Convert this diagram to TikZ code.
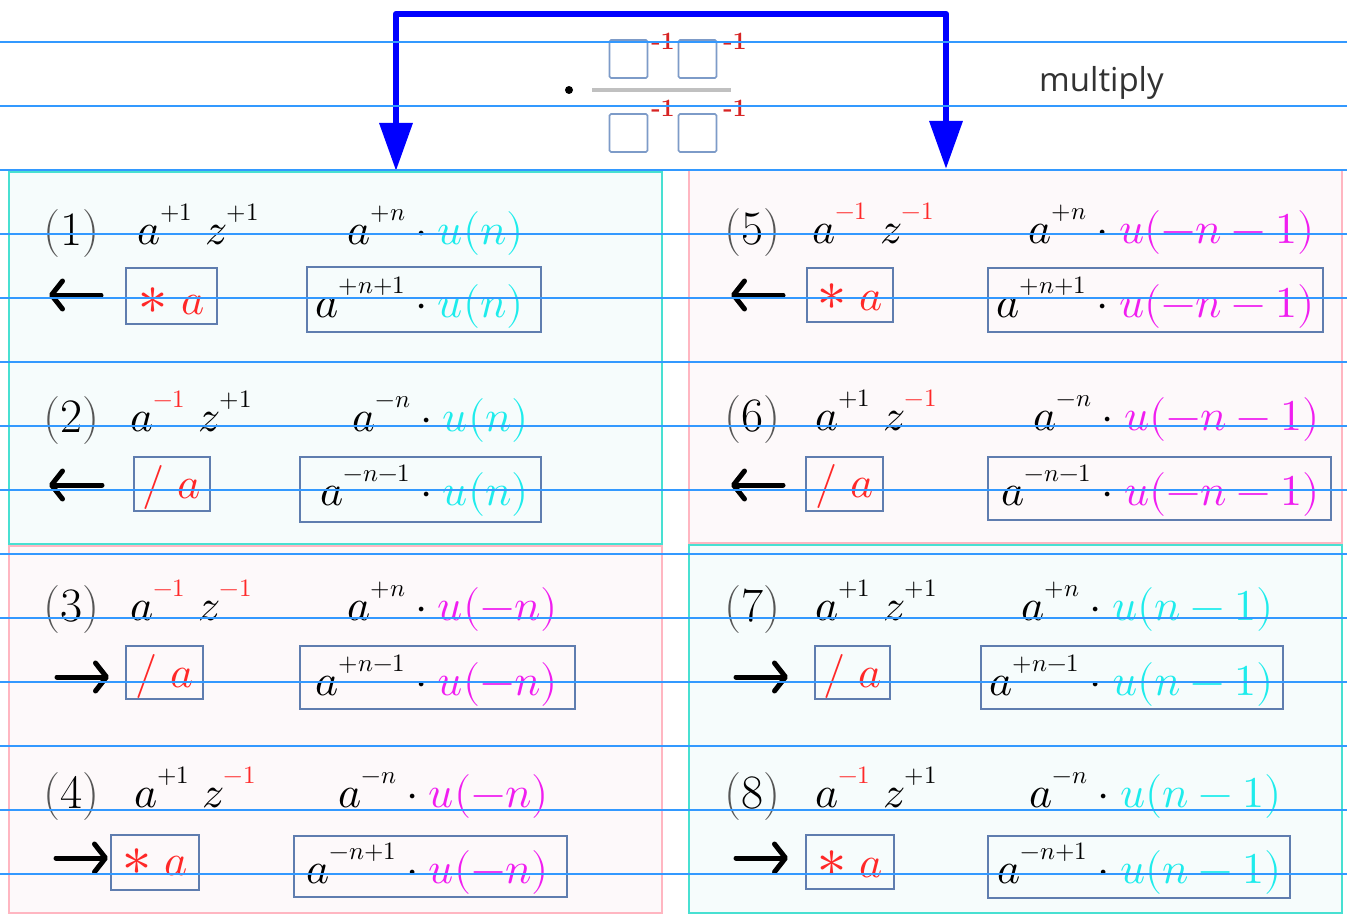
\documentclass[tikz,border=0pt]{standalone}
\usepackage{unicode-math}
\setmathfont{Latin Modern Math}
\newfontfamily\osans{Open Sans}
\usetikzlibrary{arrows.meta,fit}
\DeclareMathSizes{44}{44}{25}{19}
\definecolor{rd}{RGB}{255,40,40}
\definecolor{hdr}{RGB}{215,35,35}
\definecolor{cy}{RGB}{30,236,236}
\definecolor{mg}{RGB}{240,30,240}
\definecolor{rulec}{RGB}{51,153,255}
\definecolor{turq}{RGB}{72,224,210}
\definecolor{pinkb}{RGB}{255,182,193}
\definecolor{cfill}{RGB}{246,252,252}
\definecolor{pfill}{RGB}{253,249,250}
\definecolor{sboxc}{RGB}{95,125,175}
\definecolor{sqc}{RGB}{125,155,200}
\definecolor{lbg}{RGB}{85,85,85}
\definecolor{barg}{RGB}{192,192,192}
\definecolor{txtg}{RGB}{50,50,50}
\newcommand\rdm[1]{\textcolor{rd}{#1}}
\newcommand\cyu[1]{\textcolor{cy}{u(#1)}}
\newcommand\mgu[1]{\textcolor{mg}{u(#1)}}
\newcommand\up[1]{^{\raisebox{8pt}{$\scriptstyle #1$}}}
\newcommand\mylab[1]{{\color{lbg}(}#1{\color{lbg})}}
\newcommand\bigast{{\fontsize{58}{60}\selectfont$\ast$}}
\begin{document}
\begin{tikzpicture}[x=1pt,y=-1pt,
  mth/.style={inner sep=0pt, anchor=base west, font=\fontsize{44}{52}\selectfont, text=black},
  lbl/.style={inner sep=0pt, anchor=base west, font=\fontsize{48}{54}\selectfont, text=black},
  opn/.style={inner sep=0pt, anchor=base, font=\fontsize{44}{52}\selectfont, text=rd},
  sbox/.style={draw=sboxc, line width=1.4pt, inner sep=0pt},
  bigc/.style={draw=turq, fill=cfill, line width=2.6pt, inner sep=0pt},
  bigp/.style={draw=pinkb, fill=pfill, line width=2.6pt, inner sep=0pt},
  arr/.style={line width=5pt, line cap=round, -{Straight Barb[length=11pt,width=28pt,round]}},
  bluearr/.style={draw=blue, line width=6.5pt, line join=round, {Triangle[width=32pt,length=48pt]}-{Triangle[width=32pt,length=48pt]}},
  sq/.style={draw=sqc, fill=white, line width=1.6pt, rounded corners=1.5pt, minimum size=38pt, inner sep=0pt},
  msup/.style={inner sep=0pt, text=hdr, font=\fontsize{25}{27}\selectfont\bfseries},
  rline/.style={draw=rulec, line width=1.2pt}
]
\useasboundingbox (0,0) rectangle (1347,915);
\fill[white] (0,0) rectangle (1347,915);

% big boxes
\node[bigc, fit={(9,172) (662,544)}] (B1) {};
\node[bigp, fit={(9,546) (662,913)}] (B3) {};
\node[bigp, fit={(689,170) (1342,543)}] (B5) {};
\node[bigc, fit={(689,545) (1342,913)}] (B7) {};

% header
\coordinate (tipL) at (396,171);
\coordinate (tipR) at (946,169);
\coordinate (tbar) at (671,14);
\draw[bluearr] (tipL) |- (tbar) -| (tipR);
\node[circle, fill=black, minimum size=8pt, inner sep=0pt] (fdot) at (569,90) {};
\node[fill=barg, minimum width=139pt, minimum height=4pt, inner sep=0pt] (fbar) at (661.5,90) {};
\node[sq] (s1) at (628.5,59) {};
\node[sq] (s2) at (697.5,59) {};
\node[sq] (s3) at (628.5,133) {};
\node[sq] (s4) at (697.5,133) {};
\node[msup] (m1) at (663,41) {-1};
\node[msup] (m2) at (735,41) {-1};
\node[msup] (m3) at (663,108) {-1};
\node[msup] (m4) at (735,108) {-1};
\node[inner sep=0pt, anchor=base west, text=txtg, font=\osans\fontsize{33}{38}\selectfont] (mult) at (1039,92) {multiply};

% ---------- (1)
\node[lbl] (l1) at (43,245) {\mylab{1}};
\node[mth] (az1) at (137,244) {$a\up{+1}\;z\up{+1}$};
\node[mth, anchor=base east] (e1a) at (406,244) {$a\up{+n}$};
\node[mth] (e1b) at (406,244) {${}\cdot\cyu{n}$};
\coordinate (ar1s) at (101,295); \coordinate (ar1e) at (49,295);
\draw[arr] (ar1s) -- (ar1e);
\node[sbox, fit={(126,268) (217,324)}] (ob1) {};
\node[opn] (o1) at (171.5,314) {\bigast\ $a$};
\node[sbox, fit={(307,267) (541,332)}] (xb1) {};
\node[mth, anchor=base east] (x1a) at (406,317) {$a\up{+n+1}$};
\node[mth] (x1b) at (406,317) {${}\cdot\cyu{n}$};

% ---------- (2)
\node[lbl] (l2) at (43,432) {\mylab{2}};
\node[mth] (az2) at (130,431) {$a\up{\rdm{-1}}\;z\up{+1}$};
\node[mth, anchor=base east] (e2a) at (411,431) {$a\up{-n}$};
\node[mth] (e2b) at (411,431) {${}\cdot\cyu{n}$};
\coordinate (ar2s) at (102,485); \coordinate (ar2e) at (49,485);
\draw[arr] (ar2s) -- (ar2e);
\node[sbox, fit={(134,457) (210,511)}] (ob2) {};
\node[opn] (o2) at (172,498) {$/\ a$};
\node[sbox, fit={(300,457) (541,522)}] (xb2) {};
\node[mth, anchor=base east] (x2a) at (411,505) {$a\up{-n-1}$};
\node[mth] (x2b) at (411,505) {${}\cdot\cyu{n}$};

% ---------- (3)
\node[lbl] (l3) at (43,621) {\mylab{3}};
\node[mth] (az3) at (130,620) {$a\up{\rdm{-1}}\;z\up{\rdm{-1}}$};
\node[mth, anchor=base east] (e3a) at (406,620) {$a\up{+n}$};
\node[mth] (e3b) at (406,620) {${}\cdot\mgu{-n}$};
\coordinate (ar3s) at (57,677); \coordinate (ar3e) at (109,677);
\draw[arr] (ar3s) -- (ar3e);
\node[sbox, fit={(126,646) (203,699)}] (ob3) {};
\node[opn] (o3) at (164.5,687) {$/\ a$};
\node[sbox, fit={(300,646) (575,709)}] (xb3) {};
\node[mth, anchor=base east] (x3a) at (406,695) {$a\up{+n-1}$};
\node[mth] (x3b) at (406,695) {${}\cdot\mgu{-n}$};

% ---------- (4)
\node[lbl] (l4) at (43,808) {\mylab{4}};
\node[mth] (az4) at (134,807) {$a\up{+1}\;z\up{\rdm{-1}}$};
\node[mth, anchor=base east] (e4a) at (397,807) {$a\up{-n}$};
\node[mth] (e4b) at (397,807) {${}\cdot\mgu{-n}$};
\coordinate (ar4s) at (56,858); \coordinate (ar4e) at (108,858);
\draw[arr] (ar4s) -- (ar4e);
\node[sbox, fit={(111,835) (199,890)}] (ob4) {};
\node[opn] (o4) at (155,875) {\bigast\ $a$};
\node[sbox, fit={(294,836) (567,897)}] (xb4) {};
\node[mth, anchor=base east] (x4a) at (397,883) {$a\up{-n+1}$};
\node[mth] (x4b) at (397,883) {${}\cdot\mgu{-n}$};

% ---------- (5)
\node[lbl] (l5) at (724,244) {\mylab{5}};
\node[mth] (az5) at (812,243) {$a\up{\rdm{-1}}\;z\up{\rdm{-1}}$};
\node[mth, anchor=base east] (e5a) at (1087,243) {$a\up{+n}$};
\node[mth] (e5b) at (1087,243) {${}\cdot\mgu{-n-1}$};
\coordinate (ar5s) at (783,295); \coordinate (ar5e) at (731,295);
\draw[arr] (ar5s) -- (ar5e);
\node[sbox, fit={(807,268) (893,322)}] (ob5) {};
\node[opn] (o5) at (850,310) {\bigast\ $a$};
\node[sbox, fit={(988,268) (1323,332)}] (xb5) {};
\node[mth, anchor=base east] (x5a) at (1087,317) {$a\up{+n+1}$};
\node[mth] (x5b) at (1087,317) {${}\cdot\mgu{-n-1}$};

% ---------- (6)
\node[lbl] (l6) at (724,431) {\mylab{6}};
\node[mth] (az6) at (815,430) {$a\up{+1}\;z\up{\rdm{-1}}$};
\node[mth, anchor=base east] (e6a) at (1092,430) {$a\up{-n}$};
\node[mth] (e6b) at (1092,430) {${}\cdot\mgu{-n-1}$};
\coordinate (ar6s) at (783,485); \coordinate (ar6e) at (731,485);
\draw[arr] (ar6s) -- (ar6e);
\node[sbox, fit={(806,457) (883,511)}] (ob6) {};
\node[opn] (o6) at (844.5,497) {$/\ a$};
\node[sbox, fit={(988,457) (1331,520)}] (xb6) {};
\node[mth, anchor=base east] (x6a) at (1092,505) {$a\up{-n-1}$};
\node[mth] (x6b) at (1092,505) {${}\cdot\mgu{-n-1}$};

% ---------- (7)
\node[lbl] (l7) at (724,621) {\mylab{7}};
\node[mth] (az7) at (815,620) {$a\up{+1}\;z\up{+1}$};
\node[mth, anchor=base east] (e7a) at (1080,620) {$a\up{+n}$};
\node[mth] (e7b) at (1080,620) {${}\cdot\cyu{n-1}$};
\coordinate (ar7s) at (736,677); \coordinate (ar7e) at (788,677);
\draw[arr] (ar7s) -- (ar7e);
\node[sbox, fit={(815,646) (890,699)}] (ob7) {};
\node[opn] (o7) at (852.5,687) {$/\ a$};
\node[sbox, fit={(981,646) (1283,709)}] (xb7) {};
\node[mth, anchor=base east] (x7a) at (1080,695) {$a\up{+n-1}$};
\node[mth] (x7b) at (1080,695) {${}\cdot\cyu{n-1}$};

% ---------- (8)
\node[lbl] (l8) at (724,808) {\mylab{8}};
\node[mth] (az8) at (815,807) {$a\up{\rdm{-1}}\;z\up{+1}$};
\node[mth, anchor=base east] (e8a) at (1088,807) {$a\up{-n}$};
\node[mth] (e8b) at (1088,807) {${}\cdot\cyu{n-1}$};
\coordinate (ar8s) at (736,858); \coordinate (ar8e) at (788,858);
\draw[arr] (ar8s) -- (ar8e);
\node[sbox, fit={(806,835) (894,889)}] (ob8) {};
\node[opn] (o8) at (850,877) {\bigast\ $a$};
\node[sbox, fit={(988,836) (1290,898)}] (xb8) {};
\node[mth, anchor=base east] (x8a) at (1088,883) {$a\up{-n+1}$};
\node[mth] (x8b) at (1088,883) {${}\cdot\cyu{n-1}$};

% ruled lines
\foreach \k in {0,...,13} {
  \draw[rline] (0,{42+64*\k}) -- (1347,{42+64*\k});
}
\end{tikzpicture}
\end{document}
